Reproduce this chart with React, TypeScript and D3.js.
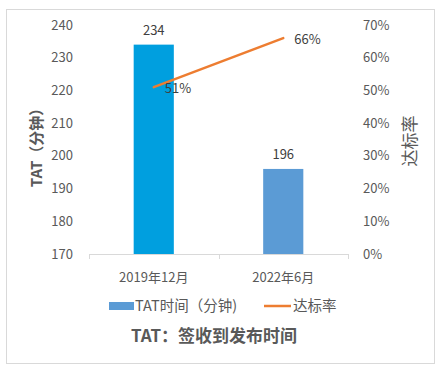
import React from "react";
import * as d3 from "d3";

// 数据
const categories = ["2019年12月", "2022年6月"];
const tatValues = [234, 196];
const rateValues = [0.51, 0.66];
const barColors = ["#009FDF", "#5B9BD5"];
const leftTicks = [170, 180, 190, 200, 210, 220, 230, 240];
const rightTicks = [0, 0.1, 0.2, 0.3, 0.4, 0.5, 0.6, 0.7];

const W = 442;
const H = 373;
const font = "'Noto Sans CJK SC', 'Noto Sans', sans-serif";
const grey = "#595959";

const App = () => {
  const plot = { left: 89, right: 348, top: 25, bottom: 254 };

  const x = d3
    .scaleBand<string>()
    .domain(categories)
    .range([plot.left, plot.right])
    .paddingInner(0.69)
    .paddingOuter(0.345);
  const yL = d3.scaleLinear().domain([170, 240]).range([plot.bottom, plot.top]);
  const yR = d3.scaleLinear().domain([0, 0.7]).range([plot.bottom, plot.top]);

  const line = d3
    .line<number>()
    .x((_, i) => x(categories[i])! + x.bandwidth() / 2)
    .y((d) => yR(d));

  const pct = d3.format(".0%");
  const step = x.step();

  return (
    <svg
      width={W}
      height={H}
      style={{ position: "absolute", left: 0, top: 0 }}
      fontFamily={font}
    >
      <rect x={0} y={0} width={W} height={H} fill="#fff" />
      <rect x={6.5} y={9.5} width={428} height={354} fill="none" stroke="#D9D9D9" />

      {/* 左轴 */}
      {leftTicks.map((t) => (
        <text key={t} x={73} y={yL(t)} dy="0.35em" textAnchor="end" fontSize={13} fill={grey}>
          {t}
        </text>
      ))}
      {/* 右轴 */}
      {rightTicks.map((t) => (
        <text key={t} x={363} y={yR(t)} dy="0.35em" textAnchor="start" fontSize={13} fill={grey}>
          {pct(t)}
        </text>
      ))}

      {/* x 轴 */}
      <line x1={plot.left} x2={plot.right} y1={plot.bottom + 0.5} y2={plot.bottom + 0.5} stroke="#D9D9D9" />
      {d3.range(categories.length + 1).map((i) => {
        const xx = Math.round(plot.left + i * step) + 0.5;
        return (
          <line key={i} x1={xx} x2={xx} y1={plot.bottom} y2={plot.bottom + 5} stroke="#D9D9D9" />
        );
      })}
      {categories.map((c) => (
        <text key={c} x={x(c)! + x.bandwidth() / 2} y={277} dy="0.35em" textAnchor="middle" fontSize={13} fill={grey}>
          {c}
        </text>
      ))}

      {/* 柱 */}
      {tatValues.map((v, i) => (
        <g key={i}>
          <rect
            x={x(categories[i])!}
            y={yL(v)}
            width={x.bandwidth()}
            height={plot.bottom - yL(v)}
            fill={barColors[i]}
          />
          <text
            x={x(categories[i])! + x.bandwidth() / 2}
            y={yL(v) - 14}
            dy="0.35em"
            textAnchor="middle"
            fontSize={13}
            fill="#404040"
          >
            {v}
          </text>
        </g>
      ))}

      {/* 折线 */}
      <path d={line(rateValues)!} fill="none" stroke="#ED7D31" strokeWidth={2.5} strokeLinecap="round" />
      {rateValues.map((v, i) => (
        <text
          key={i}
          x={x(categories[i])! + x.bandwidth() / 2 + 11}
          y={yR(v) + 1}
          dy="0.35em"
          textAnchor="start"
          fontSize={13}
          fill="#404040"
        >
          {pct(v)}
        </text>
      ))}

      {/* 轴标题 */}
      <text
        transform="translate(37,144) rotate(-90)"
        dy="0.35em"
        textAnchor="middle"
        fontSize={15}
        fontWeight="bold"
        fill={grey}
      >
        TAT（分钟）
      </text>
      <text
        transform="translate(410,141) rotate(-90)"
        dy="0.35em"
        textAnchor="middle"
        fontSize={17}
        fill={grey}
      >
        达标率
      </text>

      {/* 图例 */}
      <rect x={109} y={302} width={25} height={8} fill="#5B9BD5" />
      <text x={135} y={306} dy="0.35em" fontSize={14.5} fill={grey}>
        TAT时间（分钟)
      </text>
      <line x1={264} x2={291} y1={306} y2={306} stroke="#ED7D31" strokeWidth={2.5} />
      <text x={293} y={306} dy="0.35em" fontSize={14.5} fill={grey}>
        达标率
      </text>

      {/* 标题 */}
      <text x={214} y={336} dy="0.35em" textAnchor="middle" fontSize={17} fontWeight="bold" fill={grey}>
        TAT：签收到发布时间
      </text>
    </svg>
  );
};

export default App;
